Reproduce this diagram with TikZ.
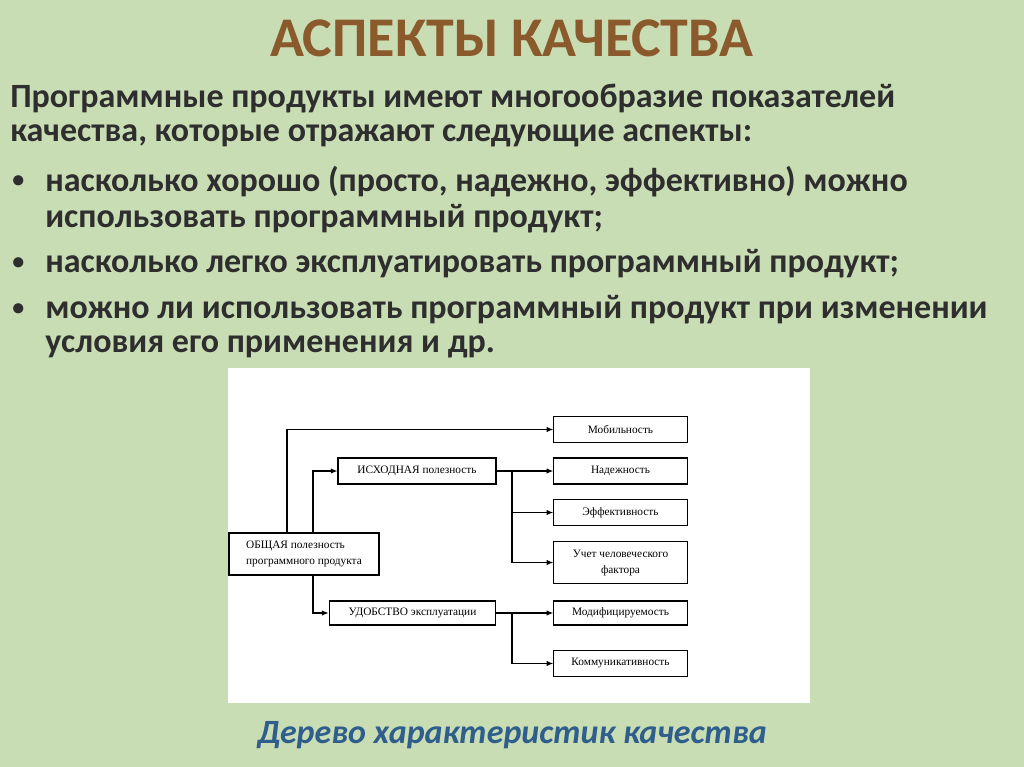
\documentclass[tikz,border=0pt]{standalone}
\usepackage{fontspec}
\setmainfont{Carlito}
\newfontfamily\serifd{Liberation Serif}
\usetikzlibrary{arrows.meta}
\definecolor{bgc}{HTML}{C9DDB4}
\definecolor{titc}{HTML}{8A5A2C}
\definecolor{txt}{HTML}{2E2E2E}
\definecolor{capc}{HTML}{2F5E8C}
\begin{document}
\begin{tikzpicture}[x=0.75pt,y=-0.75pt,
  bx/.style={draw,line width=0.8pt,inner sep=0pt,font=\serifd\fontsize{8.5}{12}\selectfont,align=center},
  ar/.style={-{Latex[length=5pt,width=4pt]},line width=0.8pt},
  body/.style={anchor=west,text=txt,font=\bfseries\fontsize{25.5}{30}\selectfont,inner sep=0pt},
  bul/.style={anchor=west,text=txt,font=\bfseries\fontsize{18}{20}\selectfont,inner sep=0pt}]
\fill[bgc] (0,0) rectangle (1024,767);
\fill[white] (228,368) rectangle (810,703);
\node[text=titc,font=\bfseries\fontsize{42}{46}\selectfont] (title) at (512,38) {АСПЕКТЫ КАЧЕСТВА};
\node[body] (l1) at (10,99) {Программные продукты имеют многообразие показателей};
\node[body] (l2) at (10,136) {качества, которые отражают следующие аспекты:};
\node[bul] (b1) at (12,182) {•};
\node[body] (l3) at (45,182) {насколько хорошо (просто, надежно, эффективно) можно};
\node[body] (l4) at (45,219) {использовать программный продукт;};
\node[bul] (b2) at (12,264) {•};
\node[body] (l5) at (45,264) {насколько легко эксплуатировать программный продукт;};
\node[bul] (b3) at (12,310) {•};
\node[body] (l6) at (45,310) {можно ли использовать программный продукт при изменении};
\node[body] (l7) at (45,347) {условия его применения и др.};
\node[text=capc,font=\bfseries\itshape\fontsize{25.5}{30}\selectfont] (cap) at (512,735) {Дерево характеристик качества};
% diagram boxes
\node[bx,minimum width=100pt,minimum height=19pt] (mob) at (620.5,429.5) {Мобильность};
\node[bx,minimum width=100pt,minimum height=19.5pt] (nad) at (620.5,471) {Надежность};
\node[bx,minimum width=100pt,minimum height=19pt] (eff) at (620.5,512.5) {Эффективность};
\node[bx,minimum width=100pt,minimum height=31pt] (uch) at (620.5,562.5) {Учет человеческого\\фактора};
\node[bx,minimum width=100pt,minimum height=18pt] (mod) at (620.5,613) {Модифицируемость};
\node[bx,minimum width=100pt,minimum height=19pt] (kom) at (620.5,663.5) {Коммуникативность};
\node[bx,minimum width=118.5pt,minimum height=19.5pt] (isk) at (417,471) {ИСХОДНАЯ полезность};
\node[bx,minimum width=125pt,minimum height=18pt] (udo) at (412.5,613) {УДОБСТВО эксплуатации};
\node[bx,minimum width=112.5pt,minimum height=31.5pt,align=left] (obs) at (304,554) {ОБЩАЯ полезность\\программного продукта};
% connectors
\draw[ar] (obs.north -| 287,0) |- (mob.west);
\draw[ar] (obs.north -| 313,0) |- (isk.west);
\draw[ar] (obs.south -| 313,0) |- (udo.west);
\coordinate (j1) at (512,471);
\coordinate (j2) at (512,613);
\draw[ar] (isk.east) -- (nad.west);
\draw[ar] (j1) |- (eff.west);
\draw[ar] (j1) |- (uch.west);
\draw[ar] (udo.east) -- (mod.west);
\draw[ar] (j2) |- (kom.west);
\end{tikzpicture}
\end{document}
